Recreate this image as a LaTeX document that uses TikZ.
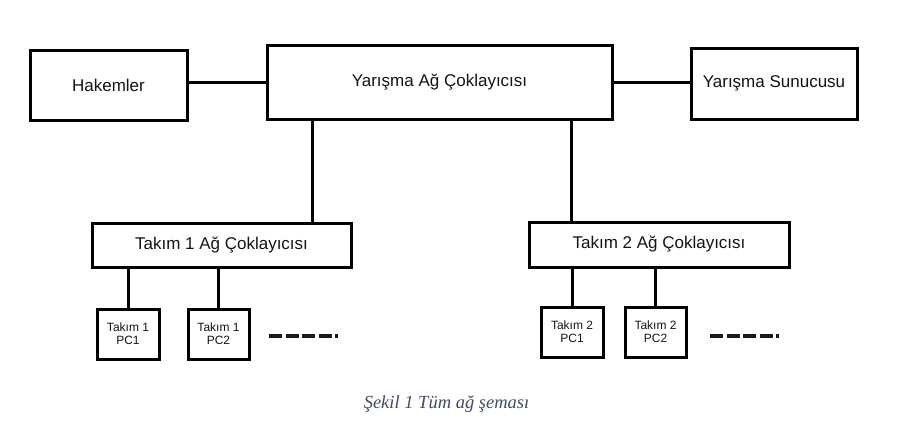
\documentclass[tikz,border=0pt]{standalone}
\usepackage{fontspec}
\setmainfont{Liberation Sans}
\newfontfamily\captfont{Liberation Serif}
\usetikzlibrary{shadows,calc}
\definecolor{captcol}{RGB}{66,74,104}
\definecolor{txtcol}{RGB}{20,20,20}
\tikzset{
  box/.style={draw=black, line width=3pt, fill=white, rectangle, inner sep=0pt,
    text=txtcol, font=\fontsize{17}{20}\selectfont,
    drop shadow={shadow xshift=1.5pt, shadow yshift=-1.8pt, fill=black!35, opacity=0.6}},
  pcbox/.style={box, font=\fontsize{12}{13}\selectfont, align=center},
  link/.style={line width=3pt},
  more/.style={line width=4pt, dash pattern=on 13pt off 3.5pt, color=black!90}
}
\begin{document}
\begin{tikzpicture}[x=1pt,y=-1pt]
\useasboundingbox (0,0) rectangle (905,421);
\node[box, minimum width=157pt, minimum height=70pt] (hak) at (108.5,85) {Hakemler};
\node[box, minimum width=345pt, minimum height=74pt] (cen) at (439.5,82) {Yarışma Ağ Çoklayıcısı};
\node[box, minimum width=166pt, minimum height=71pt] (sun) at (774,83.5) {Yarışma Sunucusu};
\node[box, minimum width=259pt, minimum height=44pt] (hub1) at (221.5,245) {Takım 1 Ağ Çoklayıcısı};
\node[box, minimum width=260pt, minimum height=45pt] (hub2) at (659,244.5) {Takım 2 Ağ Çoklayıcısı};
\node[pcbox, minimum width=62pt, minimum height=50pt] (p11) at (128,334) {Takım 1\\PC1};
\node[pcbox, minimum width=61pt, minimum height=50pt] (p12) at (218.5,334) {Takım 1\\PC2};
\node[pcbox, minimum width=62pt, minimum height=50pt] (p21) at (572,332) {Takım 2\\PC1};
\node[pcbox, minimum width=61pt, minimum height=50pt] (p22) at (655.5,332) {Takım 2\\PC2};
\coordinate (d1) at (269,336);
\coordinate (d2) at (710,336);
% connectors
\draw[link] (cen.west) -- (cen.west -| hak.east);
\draw[link] (cen.east) -- (cen.east -| sun.west);
\draw[link] ([xshift=-127.5pt]cen.south) -- ([xshift=-127.5pt]cen.south |- hub1.north);
\draw[link] ([xshift=131.5pt]cen.south) -- ([xshift=131.5pt]cen.south |- hub2.north);
\draw[link] (p11.north) -- (p11.north |- hub1.south);
\draw[link] (p12.north) -- (p12.north |- hub1.south);
\draw[link] (p21.north) -- (p21.north |- hub2.south);
\draw[link] (p22.north) -- (p22.north |- hub2.south);
\draw[more] (d1) -- ++(69,0);
\draw[more] (d2) -- ++(69,0);
\node[text=captcol, font=\captfont\itshape\fontsize{18.5}{21}\selectfont, anchor=base] (cap) at (446.5,408) {Şekil 1 Tüm ağ şeması};
\end{tikzpicture}
\end{document}
